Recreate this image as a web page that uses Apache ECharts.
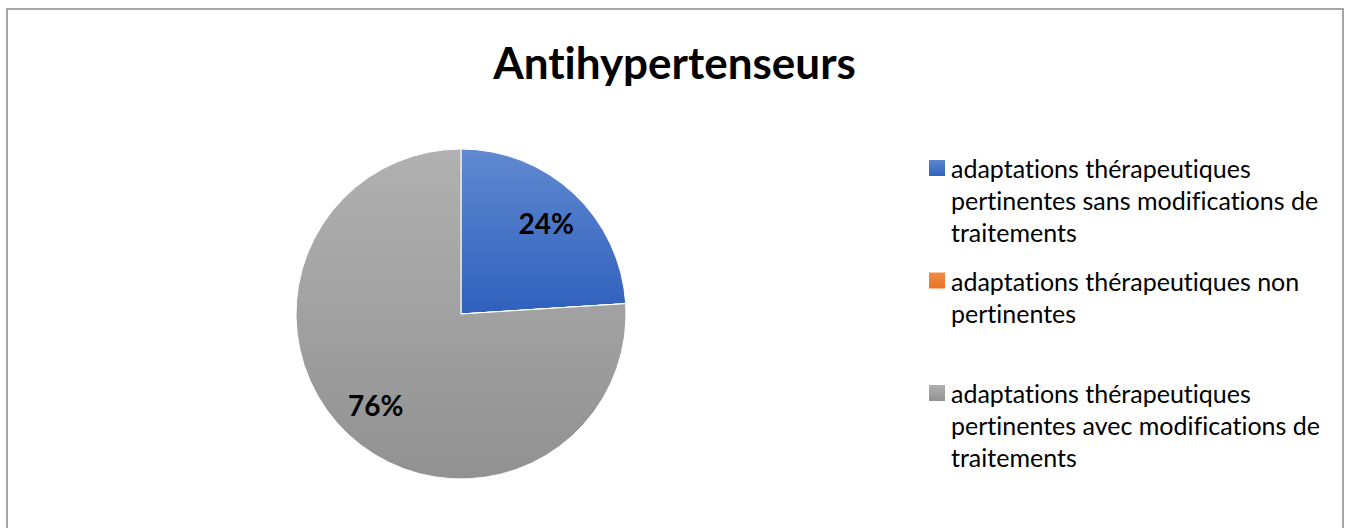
<!DOCTYPE html>
<html>
<head>
<meta charset="utf-8">
<title>Antihypertenseurs</title>
<script src="https://cdn.jsdelivr.net/npm/echarts@6/dist/echarts.min.js"></script>
<style>
  html, body { margin: 0; padding: 0; background: #fff; }
  #chart { width: 1349px; height: 528px; }
  /* pas de ligature "ti" de Lato */
  #chart text { font-variant-ligatures: none; }
</style>
</head>
<body>
<div id="chart"></div>
<script>
// données
const categories = [
  'adaptations thérapeutiques pertinentes sans modifications de traitements',
  'adaptations thérapeutiques non pertinentes',
  'adaptations thérapeutiques pertinentes avec modifications de traitements'
]
const values = [24, 0, 76]
// texte de la légende, coupé comme dans l'original
const legendLines = [
  ['adaptations thérapeutiques', 'pertinentes sans modifications de', 'traitements'],
  ['adaptations thérapeutiques non', 'pertinentes'],
  ['adaptations thérapeutiques', 'pertinentes avec modifications de', 'traitements']
]

// dégradés verticaux façon Excel
const colors = [
  ['#6089d0', '#2f60bc'],
  ['#f28d4b', '#e8711f'],
  ['#b1b1b1', '#919191']
]
const grad = (c) => ({
  type: 'linear', x: 0, y: 0, x2: 0, y2: 1,
  colorStops: [{ offset: 0, color: c[0] }, { offset: 1, color: c[1] }]
})

const font = 'Lato, "Open Sans", sans-serif'
const lineH = 32
const iconBox = 18
// centre vertical de chaque carré de légende
const legendIconY = [168, 280.5, 393]

const chart = echarts.init(document.getElementById('chart'), null, { renderer: 'svg' })

// une légende par élément ; des lignes vides au-dessus gardent le carré
// en face de la première ligne (le texte est centré sur l'icône)
const legends = categories.map((name, i) => {
  const n = legendLines[i].length
  const pad = new Array(n - 1).fill('')
  return {
    data: [name],
    orient: 'vertical',
    left: 927,
    top: legendIconY[i] - (2 * n - 1) * lineH / 2,
    padding: 0,
    itemWidth: iconBox,
    itemHeight: iconBox,
    icon: 'rect',
    selectedMode: false,
    formatter: () => pad.concat(legendLines[i]).join('\n'),
    textStyle: {
      fontFamily: font,
      fontSize: 25,
      color: '#000',
      lineHeight: lineH
    }
  }
})

chart.setOption({
  animation: false,
  title: {
    text: 'Antihypertenseurs',
    left: 'center',
    top: 35,
    textStyle: {
      fontFamily: font,
      fontSize: 44,
      fontWeight: 'bold',
      color: '#000'
    }
  },
  legend: legends,
  graphic: [
    {
      type: 'rect',
      shape: { x: 7, y: 9, width: 1336, height: 560 },
      style: { fill: 'none', stroke: '#a6a6a6', lineWidth: 2 },
      silent: true
    }
  ],
  series: [
    {
      name: 'Antihypertenseurs',
      type: 'pie',
      center: [461, 314],
      radius: [0, 165],
      startAngle: 90,
      clockwise: true,
      label: { show: false },
      labelLine: { show: false },
      itemStyle: { borderColor: '#fff', borderWidth: 1 },
      emphasis: { scale: false },
      data: categories.map((name, i) => ({
        name,
        value: values[i],
        itemStyle: { color: grad(colors[i]) }
      }))
    },
    {
      // série transparente : place les pourcentages plus près du bord
      name: 'labels',
      type: 'pie',
      center: [461, 314],
      radius: [78, 165],
      startAngle: 90,
      clockwise: true,
      silent: true,
      percentPrecision: 0,
      itemStyle: { color: 'rgba(0,0,0,0)' },
      label: {
        show: true,
        position: 'inside',
        fontFamily: font,
        fontSize: 28,
        fontWeight: 'bold',
        color: '#000',
        formatter: (p) => (p.value ? p.percent + '%' : '')
      },
      labelLine: { show: false },
      emphasis: { disabled: true },
      data: categories.map((name, i) => ({ name, value: values[i] }))
    }
  ]
})
</script>
</body>
</html>
